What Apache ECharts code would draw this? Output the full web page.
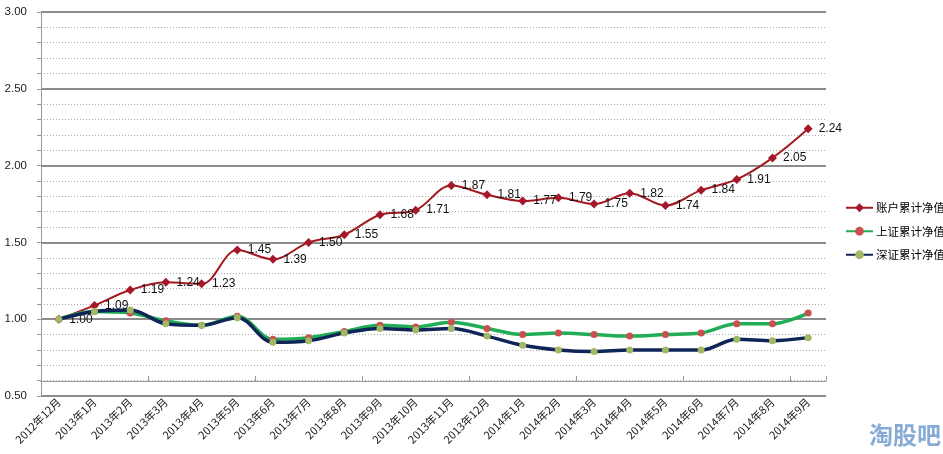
<!DOCTYPE html>
<html>
<head>
<meta charset="utf-8">
<style>html,body{margin:0;padding:0;background:#fff;}#c{width:943px;height:454px;}</style>
<script src="https://cdn.jsdelivr.net/npm/echarts@6/dist/echarts.min.js"></script>
</head>
<body>
<div id="c"></div>
<script>
const categories = ['2012年12月','2013年1月','2013年2月','2013年3月','2013年4月','2013年5月','2013年6月','2013年7月','2013年8月','2013年9月','2013年10月','2013年11月','2013年12月','2014年1月','2014年2月','2014年3月','2014年4月','2014年5月','2014年6月','2014年7月','2014年8月','2014年9月'];
const accountNav = [1.00,1.09,1.19,1.24,1.23,1.45,1.39,1.50,1.55,1.68,1.71,1.87,1.81,1.77,1.79,1.75,1.82,1.74,1.84,1.91,2.05,2.24];
const shNav = [1.00,1.05,1.04,0.99,0.96,1.02,0.87,0.88,0.92,0.96,0.95,0.98,0.94,0.90,0.91,0.90,0.89,0.90,0.91,0.97,0.97,1.04];
const szNav = [1.00,1.05,1.06,0.97,0.96,1.01,0.85,0.86,0.91,0.94,0.93,0.94,0.89,0.83,0.80,0.79,0.80,0.80,0.80,0.87,0.86,0.88];
const seriesNames = ['账户累计净值','上证累计净值','深证累计净值'];

const FONT = '"Liberation Sans","Noto Sans CJK SC",sans-serif';
const chart = echarts.init(document.getElementById('c'));
chart.setOption({
  animation: false,
  textStyle: {fontFamily: FONT},
  grid: {left: 41, right: 117, top: 12, bottom: 58, containLabel: false},
  legend: {
    orient: 'vertical', left: 840, top: 197, itemWidth: 27, itemHeight: 11, itemGap: 12,
    textStyle: {fontSize: 11.5, color: '#000', fontFamily: '"Noto Sans CJK SC",sans-serif', padding: [0, 0, 0, -2]},
    data: seriesNames
  },
  xAxis: [{
    type: 'category', data: categories, boundaryGap: true, position: 'bottom', offset: -15,
    axisLine: {show: true, lineStyle: {color: '#999', width: 1}},
    axisTick: {show: true, inside: true, length: 5, lineStyle: {color: '#999'}},
    axisLabel: {show: false}, splitLine: {show: false}
  },{
    type: 'category', data: categories, boundaryGap: true, position: 'bottom',
    axisLine: {show: false}, axisTick: {show: false},
    axisLabel: {rotate: 45, fontSize: 11, color: '#222', margin: 4, interval: 0, fontFamily: '"Noto Sans CJK SC",sans-serif'}
  }],
  yAxis: {
    type: 'value', min: 0.5, max: 3.0, interval: 0.5,
    axisLine: {show: true, lineStyle: {color: '#999', width: 1}},
    axisTick: {show: true, length: 4, lineStyle: {color: '#999'}},
    minorTick: {show: true, splitNumber: 5, length: 4, lineStyle: {color: '#999'}},
    axisLabel: {formatter: v => v.toFixed(2), fontSize: 11.5, color: '#222', margin: 14},
    splitLine: {show: true, lineStyle: {color: '#8c8c8c', width: 2}},
    minorSplitLine: {show: true, lineStyle: {color: '#aaa', width: 1, type: [1, 2]}}
  },
  series: [{
    name: seriesNames[0], type: 'line', data: accountNav, smooth: 0.35,
    symbol: 'diamond', symbolSize: 9,
    lineStyle: {color: '#a3191f', width: 2},
    itemStyle: {color: '#a5172b'},
    label: {show: true, position: 'right', distance: 6, formatter: p => p.value.toFixed(2), fontSize: 12, color: '#111'},
    z: 3
  },{
    name: seriesNames[1], type: 'line', data: shNav, smooth: 0.35,
    symbol: 'circle', symbolSize: 7,
    lineStyle: {color: '#1fae55', width: 3.5},
    itemStyle: {color: '#c9504e'},
    z: 4
  },{
    name: seriesNames[2], type: 'line', data: szNav, smooth: 0.35,
    symbol: 'circle', symbolSize: 7,
    lineStyle: {color: '#0f2557', width: 3.5},
    itemStyle: {color: '#a3b865'},
    z: 5
  }],
  graphic: [{
    type: 'text', left: 869, top: 423,
    style: {text: '淘股吧', fontSize: 24, fontWeight: 'bold', fill: '#86acd6', fontFamily: '"Noto Sans CJK SC",sans-serif'}
  }]
});
</script>
</body>
</html>
